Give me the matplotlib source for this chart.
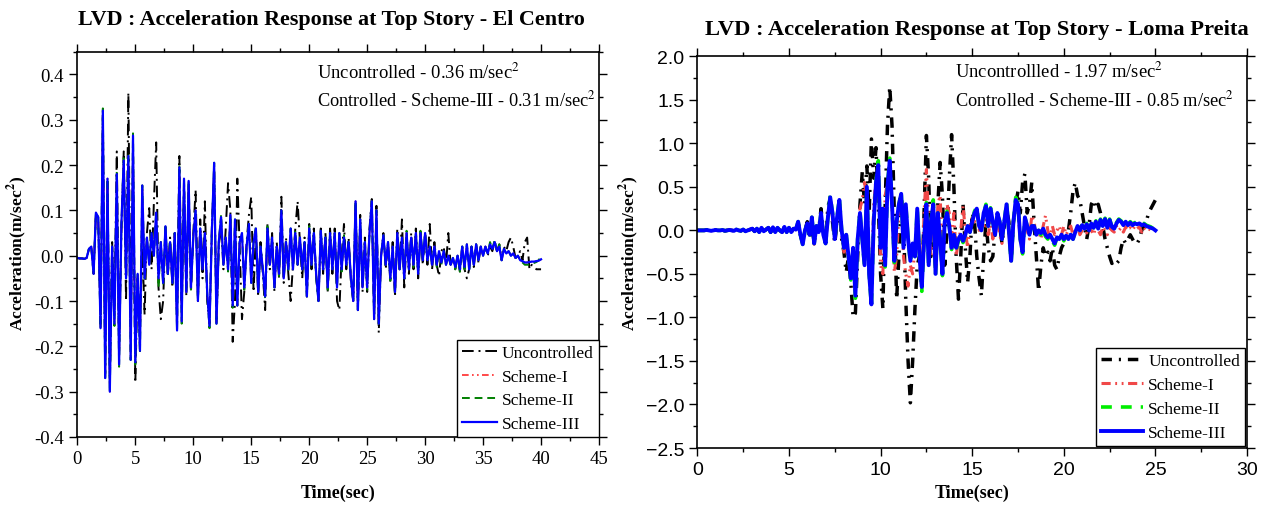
import numpy as np
import matplotlib
matplotlib.use('Agg')
import matplotlib.pyplot as plt
from matplotlib.ticker import MultipleLocator, FuncFormatter

# ---- El Centro, top story acceleration (m/sec^2), sampled every 0.2 s from 0 to 40 s
ec_end = 40.0
ec_uncontrolled = [
    -0.005, -0.006, -0.006, -0.007, -0.005, 0.015, 0.02, -0.04, 0.09, 0.08,
    -0.15, 0.31, -0.26, 0.16, -0.28, 0.03, -0.12, 0.23, -0.2, 0.05,
    0.23, -0.1, 0.36, -0.15, 0.2, -0.28, -0.05, -0.15, 0.02, -0.13,
    0.05, 0.105, -0.03, 0.116, 0.25, -0.07, -0.14, -0.1, 0.05, -0.04,
    0.04, -0.07, 0.05, -0.12, 0.22, -0.1, 0.15, -0.09, 0.14, -0.08,
    0.05, 0.145, -0.1, 0.08, -0.05, 0.12, -0.1, -0.15, 0.06, 0.19,
    -0.15, 0.02, 0.07, -0.03, 0.06, 0.16, 0.1, -0.19, -0.1, 0.17,
    0.02, -0.14, -0.08, 0.03, 0.09, 0.13, -0.08, 0.05, -0.09, 0.03,
    -0.04, -0.12, 0.07, -0.03, 0.05, -0.08, 0.03, -0.05, 0.13, -0.06,
    0.04, -0.04, -0.1, -0.02, 0.06, 0.12, 0.03, -0.05, 0.04, -0.09,
    0.07, -0.03, 0.06, -0.05, -0.1, 0.06, -0.04, 0.05, -0.08, 0.06,
    -0.04, 0.06, -0.1, -0.12, 0.0, 0.07, -0.03, 0.04, -0.06, -0.1,
    0.12, -0.12, 0.09, -0.08, 0.04, -0.08, 0.06, 0.125, -0.14, 0.11,
    -0.17, 0.0, 0.05, -0.03, 0.03, -0.06, 0.03, -0.09, 0.06, -0.03,
    0.08, -0.07, 0.04, -0.04, 0.05, -0.03, 0.06, -0.05, 0.05, -0.02,
    0.05, -0.02, 0.07, -0.03, 0.03, -0.02, -0.045, 0.01, 0.02, -0.02,
    0.05, -0.02, -0.01, -0.03, 0.0, -0.035, 0.02, -0.03, -0.05, -0.03,
    0.02, -0.025, 0.025, -0.015, 0.02, 0.0, 0.02, 0.0, 0.02, 0.01,
    0.03, 0.01, 0.025, -0.01, 0.02, 0.01, 0.03, 0.04, 0.02, -0.005,
    0.0, 0.01, -0.01, 0.03, 0.04, -0.03, -0.02, -0.025, -0.03, -0.03, -0.03,
]
ec_scheme1 = [
    -0.005, -0.006, -0.006, -0.007, -0.005, 0.015, 0.02, -0.04, 0.095, 0.085,
    -0.16, 0.32, -0.27, 0.17, -0.3, 0.02, -0.15, 0.18, -0.24, 0.07,
    0.21, -0.05, 0.22, -0.23, 0.265, -0.235, -0.04, -0.21, 0.155, -0.05,
    0.04, -0.02, 0.05, 0.0, 0.095, -0.055, 0.03, -0.06, 0.065, -0.04,
    0.03, -0.06, 0.05, -0.165, 0.195, -0.145, 0.17, -0.08, 0.165, -0.07,
    0.04, 0.1, -0.1, 0.06, -0.03, 0.05, -0.08, -0.155, 0.05, 0.205,
    -0.15, 0.03, 0.085, -0.02, 0.04, -0.03, 0.09, -0.11, 0.08, -0.11,
    0.03, 0.05, -0.07, 0.02, 0.07, -0.06, 0.03, 0.06, -0.08, 0.02,
    -0.03, -0.09, 0.06, -0.02, 0.04, -0.07, 0.02, -0.04, 0.1, -0.05,
    0.03, -0.03, 0.06, -0.03, 0.05, -0.02, 0.04, -0.03, 0.03, -0.09,
    0.06, -0.02, 0.05, -0.04, -0.1, 0.055, -0.03, 0.04, -0.07, 0.05,
    -0.03, 0.05, -0.07, 0.05, -0.03, 0.04, -0.02, 0.03, -0.05, -0.1,
    0.12, -0.12, 0.08, -0.07, 0.03, -0.07, 0.05, 0.12, -0.14, 0.1,
    -0.15, 0.0, 0.045, -0.02, 0.03, -0.05, 0.02, -0.08, 0.05, -0.03,
    0.04, -0.05, 0.05, -0.03, 0.04, -0.02, 0.05, -0.04, 0.05, -0.01,
    0.05, -0.01, 0.02, -0.02, 0.02, -0.02, 0.01, -0.015, 0.01, -0.02,
    0.0, -0.02, -0.005, -0.025, 0.0, -0.03, 0.02, -0.025, 0.025, -0.03,
    0.02, -0.02, 0.025, -0.01, 0.02, 0.0, 0.02, 0.005, 0.025, 0.015,
    0.03, 0.01, 0.02, -0.01, 0.015, 0.005, 0.01, 0.0, 0.005, -0.005,
    0.0, -0.01, -0.012, -0.015, -0.015, -0.014, -0.013, -0.013, -0.012, -0.011, -0.008,
]
ec_scheme2 = [
    -0.005, -0.006, -0.006, -0.007, -0.005, 0.015, 0.02, -0.04, 0.095, 0.085,
    -0.16, 0.325, -0.275, 0.17, -0.3, 0.02, -0.155, 0.185, -0.245, 0.07,
    0.215, -0.05, 0.225, -0.23, 0.27, -0.24, -0.04, -0.215, 0.155, -0.05,
    0.04, -0.02, 0.05, 0.0, 0.1, -0.07, 0.03, -0.065, 0.07, -0.045,
    0.035, -0.06, 0.05, -0.165, 0.2, -0.15, 0.17, -0.08, 0.165, -0.075,
    0.04, 0.1, -0.1, 0.06, -0.03, 0.05, -0.085, -0.16, 0.05, 0.205,
    -0.15, 0.03, 0.09, -0.02, 0.04, -0.035, 0.09, -0.115, 0.08, -0.11,
    0.03, 0.05, -0.075, 0.02, 0.07, -0.06, 0.03, 0.065, -0.08, 0.02,
    -0.03, -0.095, 0.065, -0.02, 0.04, -0.07, 0.02, -0.045, 0.1, -0.05,
    0.03, -0.035, 0.06, -0.03, 0.055, -0.02, 0.04, -0.03, 0.03, -0.09,
    0.065, -0.02, 0.05, -0.045, -0.1, 0.055, -0.03, 0.04, -0.075, 0.05,
    -0.03, 0.05, -0.07, 0.05, -0.035, 0.045, -0.02, 0.03, -0.05, -0.1,
    0.12, -0.12, 0.08, -0.07, 0.03, -0.075, 0.05, 0.12, -0.14, 0.1,
    -0.15, 0.0, 0.045, -0.02, 0.03, -0.055, 0.02, -0.085, 0.05, -0.03,
    0.04, -0.05, 0.055, -0.03, 0.04, -0.025, 0.05, -0.04, 0.055, -0.01,
    0.05, -0.01, 0.02, -0.02, 0.02, -0.025, 0.01, -0.02, 0.01, -0.02,
    0.0, -0.02, -0.005, -0.03, 0.0, -0.035, 0.02, -0.03, 0.025, -0.03,
    0.02, -0.02, 0.025, -0.01, 0.02, 0.0, 0.02, 0.005, 0.03, 0.015,
    0.035, 0.01, 0.025, -0.01, 0.015, 0.005, 0.01, 0.0, 0.005, -0.005,
    0.0, -0.01, -0.015, -0.02, -0.02, -0.02, -0.018, -0.016, -0.014, -0.01, 0.0,
]
ec_scheme3 = [
    -0.005, -0.006, -0.006, -0.007, -0.005, 0.015, 0.02, -0.04, 0.095, 0.085,
    -0.16, 0.32, -0.27, 0.17, -0.3, 0.02, -0.15, 0.18, -0.24, 0.07,
    0.21, -0.05, 0.22, -0.23, 0.265, -0.235, -0.04, -0.21, 0.155, -0.05,
    0.04, -0.02, 0.05, 0.0, 0.095, -0.05, 0.03, -0.06, 0.065, -0.04,
    0.03, -0.06, 0.05, -0.165, 0.195, -0.145, 0.17, -0.08, 0.165, -0.07,
    0.04, 0.1, -0.1, 0.06, -0.03, 0.05, -0.08, -0.155, 0.05, 0.205,
    -0.15, 0.03, 0.085, -0.02, 0.04, -0.03, 0.09, -0.11, 0.08, -0.11,
    0.03, 0.05, -0.07, 0.02, 0.07, -0.06, 0.03, 0.06, -0.08, 0.02,
    -0.03, -0.09, 0.06, -0.02, 0.04, -0.07, 0.02, -0.04, 0.1, -0.05,
    0.03, -0.03, 0.06, -0.03, 0.05, -0.02, 0.04, -0.03, 0.03, -0.09,
    0.06, -0.02, 0.05, -0.04, -0.1, 0.055, -0.03, 0.04, -0.07, 0.05,
    -0.03, 0.05, -0.07, 0.05, -0.03, 0.04, -0.02, 0.03, -0.05, -0.1,
    0.12, -0.12, 0.08, -0.07, 0.03, -0.07, 0.05, 0.12, -0.14, 0.1,
    -0.15, 0.0, 0.045, -0.02, 0.03, -0.05, 0.02, -0.08, 0.05, -0.03,
    0.04, -0.05, 0.05, -0.03, 0.04, -0.02, 0.05, -0.04, 0.05, -0.01,
    0.05, -0.01, 0.02, -0.02, 0.02, -0.02, 0.01, -0.015, 0.01, -0.02,
    0.0, -0.02, -0.005, -0.025, 0.0, -0.03, 0.02, -0.025, 0.025, -0.03,
    0.02, -0.02, 0.025, -0.01, 0.02, 0.0, 0.02, 0.005, 0.025, 0.015,
    0.03, 0.01, 0.02, -0.01, 0.015, 0.005, 0.01, 0.0, 0.005, -0.005,
    0.0, -0.01, -0.012, -0.015, -0.015, -0.014, -0.013, -0.013, -0.012, -0.011, -0.008,
]

# ---- Loma Prieta, top story acceleration (m/sec^2), sampled every 0.125 s from 0 to 25 s
lp_end = 25.0
lp_quiet = [
    0.0, 0.0, 0.0, 0.0, 0.005, 0.0, -0.005, 0.0, 0.005, 0.0,
    0.0, 0.005, -0.005, 0.0, 0.005, 0.0, -0.005, 0.01, 0.0, -0.005,
    0.01, -0.01, 0.0, 0.01, 0.02, -0.01, 0.02, -0.02, 0.03, -0.01,
    0.01, 0.03, -0.02, 0.035, -0.02, 0.03, 0.0, -0.02, 0.04, -0.02,
    0.03, -0.02, 0.02, 0.01,
]
lp_uncontrolled = lp_quiet + [
    0.1, -0.05, -0.15, 0.0, 0.1, -0.1, 0.12, -0.15, 0.05, 0.0,
    0.25, 0.0, -0.15, 0.28, 0.35, 0.1, -0.15, 0.1, 0.3, -0.1,
    -0.25, -0.48, -0.3, -0.6, -1.0, -0.95, -0.3, 0.3, 0.67, 0.3,
    0.74, 0.2, 1.05, 0.6, 0.95, 0.3, -0.5, -0.9, 0.3, 1.2,
    1.65, 1.2, 0.2, -0.79, -0.3, 0.4, 0.1, -0.8, -1.5, -1.98,
    -1.5, -0.9, -0.4, -0.3, -0.65, 0.2, 1.09, 0.6, -0.3, -0.1,
    -0.4, 0.3, 0.78, 0.4, -0.4, 0.0, 0.6, 1.1, 0.5, -0.3,
    -0.79, -0.3, 0.3, -0.2, -0.6, -0.3, 0.2, 0.1, -0.3, -0.55,
    -0.75, -0.3, 0.1, -0.2, -0.35, -0.3, 0.0, 0.1, 0.05, -0.15,
    0.05, 0.25, 0.1, -0.35, 0.1, 0.3, 0.45, 0.2, 0.55, 0.65,
    0.2, 0.3, 0.55, 0.1, -0.3, -0.7, -0.4, -0.2, -0.3, -0.25,
    -0.35, -0.2, -0.4, -0.45, -0.3, -0.2, -0.15, -0.05, 0.0, 0.2,
    0.45, 0.55, 0.4, 0.35, 0.2, 0.05, -0.1, 0.05, 0.3, 0.35,
    0.25, 0.3, 0.2, 0.05, -0.1, -0.2, -0.3, -0.38, -0.35, -0.38,
    -0.35, -0.2, -0.1, -0.15, -0.1, -0.05, -0.1, -0.15, -0.15, -0.1,
    0.0, 0.05, 0.1, 0.2, 0.25, 0.3, 0.35,
]
lp_scheme1 = lp_quiet + [
    0.1, -0.05, -0.15, 0.0, 0.08, -0.05, 0.14, -0.16, 0.05, 0.0,
    0.2, -0.03, -0.15, 0.18, 0.35, 0.15, -0.1, 0.12, 0.3, -0.05,
    -0.25, -0.2, -0.35, -0.5, -0.3, -0.65, -0.2, 0.25, 0.35, 0.55,
    0.4, -0.3, -0.6, 0.3, 0.6, 0.7, -0.4, -0.5, 0.4, 0.55,
    0.7, 0.3, -0.48, -0.3, 0.2, 0.4, -0.3, -0.5, -0.64, -0.4,
    -0.5, -0.2, 0.2, -0.3, -0.55, 0.2, 0.7, 0.1, -0.3, 0.2,
    -0.4, 0.3, 0.4, -0.3, 0.1, 0.3, 0.2, -0.1, 0.2, -0.3,
    -0.1, 0.0, 0.28, 0.0, -0.2, 0.05, 0.15, 0.1, 0.2, 0.0,
    0.1, 0.05, 0.12, -0.05, 0.1, -0.1, 0.05, 0.1, -0.05, -0.15,
    0.1, 0.25, 0.0, -0.35, 0.1, 0.3, 0.2, -0.1, -0.2, 0.1,
    0.0, -0.1, 0.17, 0.1, -0.05, 0.0, -0.1, 0.05, 0.17, 0.0,
    -0.1, 0.05, -0.05, 0.0, 0.05, -0.05, 0.05, -0.05, 0.0, 0.05,
    -0.05, 0.0, 0.05, -0.05, 0.0, 0.05, -0.03, 0.05, 0.0, -0.05,
    0.05, 0.0, -0.05, 0.04, 0.0, -0.05, 0.03, 0.0, -0.02, 0.05,
    0.0, 0.03, -0.02, 0.04, 0.0, 0.03, 0.0, 0.05, 0.02, 0.04,
    -0.02, 0.03, 0.0, 0.02, 0.0, 0.01, 0.0,
]
lp_scheme2 = lp_quiet + [
    0.1, -0.05, -0.16, 0.0, 0.08, -0.05, 0.15, -0.15, 0.05, -0.02,
    0.2, -0.05, -0.15, 0.15, 0.4, 0.2, -0.1, 0.15, 0.37, 0.0,
    -0.2, -0.05, -0.3, -0.57, -0.2, -0.78, -0.1, 0.22, -0.1, -0.42,
    0.52, -0.5, -0.87, 0.1, 0.57, 0.8, -0.2, 0.25, -0.42, 0.52,
    0.83, 0.3, -0.37, 0.1, 0.3, 0.44, -0.2, 0.3, -0.1, -0.37,
    -0.15, -0.3, 0.25, -0.3, -0.7, -0.1, 0.32, -0.42, 0.1, 0.35,
    -0.52, 0.2, -0.1, -0.52, 0.1, 0.22, 0.05, -0.22, -0.05, -0.22,
    -0.12, -0.05, -0.14, -0.05, 0.05, -0.02, 0.1, 0.22, 0.27, 0.05,
    0.0, 0.2, 0.3, 0.05, 0.26, 0.1, -0.05, 0.2, 0.1, -0.1,
    0.1, 0.32, 0.0, -0.37, 0.1, 0.38, 0.3, -0.1, -0.27, 0.15,
    0.05, -0.05, 0.05, 0.05, -0.05, 0.0, -0.05, 0.02, -0.07, -0.1,
    -0.05, -0.12, -0.17, -0.08, -0.1, -0.05, -0.12, -0.06, -0.1, -0.05,
    -0.1, -0.02, 0.05, 0.0, 0.07, 0.02, 0.08, 0.0, 0.09, 0.03,
    0.11, 0.02, 0.13, 0.05, 0.14, 0.03, 0.13, 0.04, 0.02, 0.09,
    0.13, 0.11, 0.07, 0.11, 0.07, 0.1, 0.07, 0.09, 0.08, 0.09,
    0.07, 0.08, 0.06, 0.05, 0.04, 0.02, 0.0,
]
lp_scheme3 = lp_quiet + [
    0.1, -0.05, -0.16, 0.0, 0.08, -0.05, 0.15, -0.15, 0.05, -0.02,
    0.2, -0.05, -0.15, 0.15, 0.38, 0.2, -0.1, 0.15, 0.35, 0.0,
    -0.2, -0.05, -0.3, -0.55, -0.2, -0.75, -0.1, 0.2, -0.1, -0.4,
    0.5, -0.5, -0.85, 0.1, 0.55, 0.75, -0.2, 0.25, -0.4, 0.5,
    0.8, 0.3, -0.35, 0.1, 0.3, 0.42, -0.2, 0.3, -0.1, -0.35,
    -0.15, -0.3, 0.25, -0.3, -0.65, -0.1, 0.3, -0.4, 0.1, 0.3,
    -0.5, 0.2, -0.1, -0.5, 0.1, 0.2, 0.05, -0.2, -0.05, -0.2,
    -0.1, -0.05, -0.12, -0.05, 0.05, -0.02, 0.1, 0.2, 0.25, 0.05,
    0.0, 0.2, 0.28, 0.05, 0.25, 0.1, -0.05, 0.2, 0.1, -0.1,
    0.1, 0.3, 0.0, -0.35, 0.1, 0.35, 0.3, -0.1, -0.25, 0.15,
    0.05, -0.05, 0.05, 0.05, -0.05, 0.0, -0.03, 0.02, -0.05, -0.08,
    -0.05, -0.1, -0.15, -0.08, -0.1, -0.05, -0.1, -0.06, -0.1, -0.05,
    -0.1, -0.02, 0.05, 0.0, 0.06, 0.02, 0.07, 0.0, 0.08, 0.03,
    0.1, 0.02, 0.12, 0.05, 0.13, 0.03, 0.12, 0.04, 0.02, 0.08,
    0.12, 0.1, 0.06, 0.1, 0.06, 0.09, 0.06, 0.08, 0.07, 0.08,
    0.06, 0.07, 0.05, 0.04, 0.03, 0.02, 0.0,
]

labels = ['Uncontrolled', 'Scheme-I', 'Scheme-II', 'Scheme-III']

SERIF = 'Liberation Serif'
SANS = 'Liberation Sans'
plt.rcParams['mathtext.fontset'] = 'stix'
plt.rcParams['axes.linewidth'] = 1.2


def time_of(values, t_end):
    return np.linspace(0, t_end, len(values))


def style_axes(ax, tick_font, tick_size, xmaj, ymaj):
    ax.xaxis.set_major_locator(MultipleLocator(xmaj))
    ax.xaxis.set_minor_locator(MultipleLocator(xmaj / 2))
    ax.yaxis.set_major_locator(MultipleLocator(ymaj))
    ax.yaxis.set_minor_locator(MultipleLocator(ymaj / 2))
    ax.tick_params(which='both', direction='out', top=True, right=True, width=1.0)
    ax.tick_params(which='major', length=6)
    ax.tick_params(which='minor', length=3)
    ax.tick_params(labelsize=tick_size, labelfontfamily=tick_font, colors='black')
    ax.set_xlabel('Time(sec)', fontfamily=SERIF, fontweight='bold', fontsize=13)
    ax.set_ylabel('Acceleration(m/sec$^\\mathbf{2}$)', fontfamily=SERIF,
                  fontweight='bold', fontsize=12.5)


fig = plt.figure(figsize=(12.64, 5.06), dpi=100)

# ---- left panel: El Centro
ax1 = fig.add_axes([0.0612, 0.1344, 0.4127, 0.7614])
ax1.plot(time_of(ec_uncontrolled, ec_end), ec_uncontrolled, color='black', lw=1.4,
         dashes=(6, 2.5, 1, 2.5), label=labels[0])
ax1.plot(time_of(ec_scheme1, ec_end), ec_scheme1, color='#ff2a2a', lw=1.2,
         dashes=(4, 2, 1, 2, 1, 2), label=labels[1])
ax1.plot(time_of(ec_scheme2, ec_end), ec_scheme2, color='#008000', lw=1.4,
         dashes=(4, 2.5), label=labels[2])
ax1.plot(time_of(ec_scheme3, ec_end), ec_scheme3, color='#0000ff', lw=1.6,
         label=labels[3])
ax1.set_xlim(0, 45)
ax1.set_ylim(-0.4, 0.45)
style_axes(ax1, SERIF, 13.5, 5, 0.1)
ax1.yaxis.set_major_formatter(FuncFormatter(lambda v, p: f'{v:.1f}'.replace('-0.0', '0.0')))
ax1.xaxis.labelpad = 12
ax1.yaxis.set_label_coords(-0.093, 0.48)
ax1.text(0.459, 0.947, 'Uncontrolled - 0.36 m/sec$^2$', transform=ax1.transAxes,
         fontfamily=SERIF, fontsize=13.4, va='center')
ax1.text(0.459, 0.877, 'Controlled - Scheme-III - 0.31 m/sec$^2$', transform=ax1.transAxes,
         fontfamily=SERIF, fontsize=13.2, va='center')
leg1 = ax1.legend(loc='lower right', borderaxespad=0, fancybox=False, framealpha=1,
                  edgecolor='black', prop={'family': SERIF, 'size': 12.5},
                  handlelength=2.0, handletextpad=0.3, borderpad=0.3, labelspacing=0.42)
leg1.get_frame().set_linewidth(1.0)

# ---- right panel: Loma Prieta
ax2 = fig.add_axes([0.5517, 0.1126, 0.4349, 0.7742])
ax2.plot(time_of(lp_uncontrolled, lp_end), lp_uncontrolled, color='black', lw=2.5,
         dashes=(3, 2, 0.6, 2), label=labels[0])
ax2.plot(time_of(lp_scheme1, lp_end), lp_scheme1, color='#f04848', lw=2.2,
         dashes=(3, 1.5, 0.6, 1.5, 0.6, 1.5), label=labels[1])
ax2.plot(time_of(lp_scheme2, lp_end), lp_scheme2, color='#00ee00', lw=2.6,
         dashes=(3, 2.5), label=labels[2])
ax2.plot(time_of(lp_scheme3, lp_end), lp_scheme3, color='#0000ff', lw=2.8,
         label=labels[3])
ax2.set_xlim(0, 30)
ax2.set_ylim(-2.5, 2.0)
style_axes(ax2, SANS, 14, 5, 0.5)
ax2.xaxis.labelpad = 4
ax2.yaxis.set_label_coords(-0.102, 0.5)
ax2.text(0.469, 0.962, 'Uncontrollled - 1.97 m/sec$^2$', transform=ax2.transAxes,
         fontfamily=SERIF, fontsize=13.4, va='center')
ax2.text(0.469, 0.891, 'Controlled - Scheme-III - 0.85 m/sec$^2$', transform=ax2.transAxes,
         fontfamily=SERIF, fontsize=13.2, va='center')
leg2 = ax2.legend(loc='lower right', borderaxespad=0.1, fancybox=False, framealpha=1,
                  edgecolor='black', prop={'family': SERIF, 'size': 12.5},
                  handlelength=2.4, handletextpad=0.3, borderpad=0.3, labelspacing=0.45)
leg2.get_frame().set_linewidth(1.0)

# ---- titles
fig.text(0.262, 0.960, 'LVD : Acceleration Response at Top Story - El Centro',
         fontfamily=SERIF, fontweight='bold', fontsize=15.8, ha='center', va='center')
fig.text(0.773, 0.940, 'LVD : Acceleration Response at Top Story - Loma Preita',
         fontfamily=SERIF, fontweight='bold', fontsize=16.2, ha='center', va='center')

fig.savefig('out.png', dpi=100)
plt.close(fig)
